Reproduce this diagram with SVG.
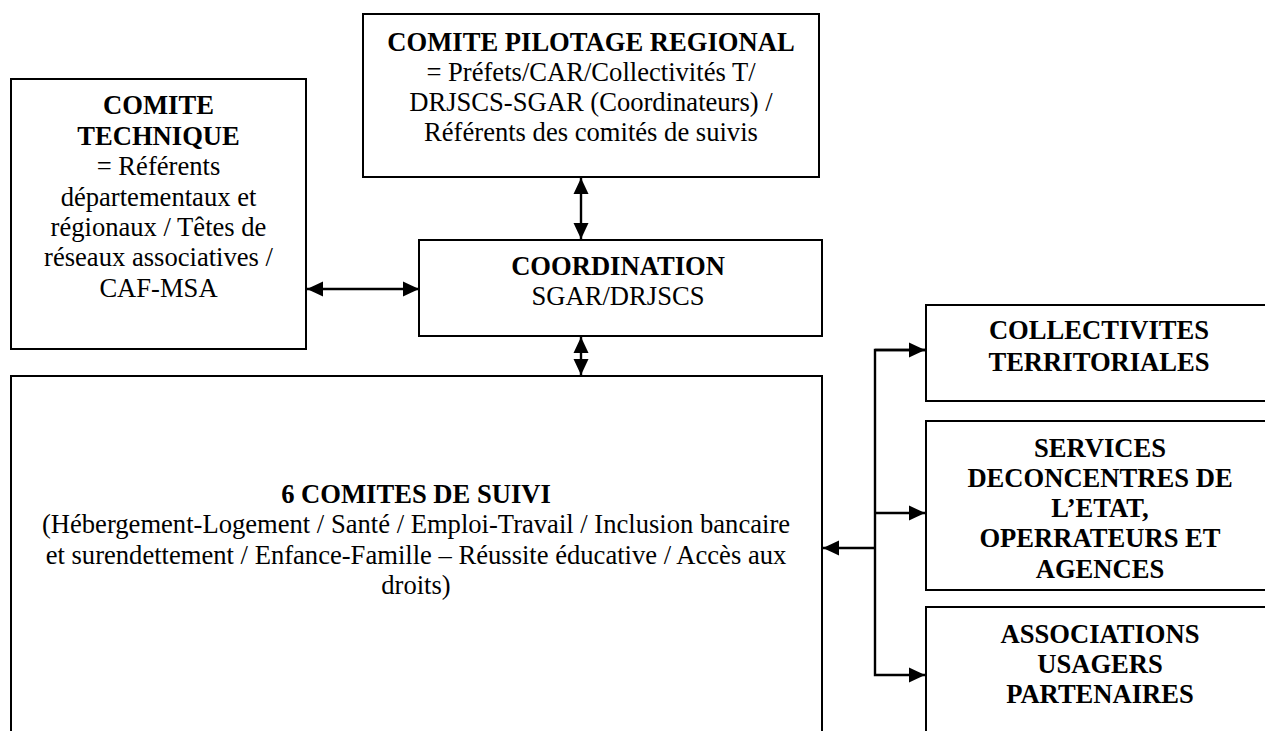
<svg xmlns="http://www.w3.org/2000/svg" width="1265" height="731" viewBox="0 0 1265 731">
<style>
.box{fill:#fff;stroke:#000;stroke-width:2}
.b{font-weight:bold}
.con{fill:none;stroke:#000;stroke-width:2.4}
</style>
<defs>
<marker id="ah" markerUnits="userSpaceOnUse" markerWidth="18" markerHeight="18" viewBox="0 0 18 18" refX="16" refY="9" orient="auto-start-reverse">
<path d="M0,1.5 L16,9 L0,16.5 Z" fill="#000"/>
</marker>
</defs>
<rect width="1265" height="731" fill="#fff"/>
<g font-family="Liberation Serif" font-size="26.6" text-anchor="middle" fill="#000">
<g id="comite-pilotage">
<rect class="box" x="363" y="14" width="456" height="163"/>
<text x="591" y="51" class="b">COMITE PILOTAGE REGIONAL</text>
<text x="591" y="81">= Préfets/CAR/Collectivités T/</text>
<text x="591" y="111">DRJSCS-SGAR (Coordinateurs) /</text>
<text x="591" y="141">Référents des comités de suivis</text>
</g>
<g id="comite-technique">
<rect class="box" x="11" y="79" width="295" height="270"/>
<text x="158.5" y="114" class="b">COMITE</text>
<text x="158.5" y="145" class="b">TECHNIQUE</text>
<text x="158.5" y="175">= Référents</text>
<text x="158.5" y="206">départementaux et</text>
<text x="158.5" y="236">régionaux / Têtes de</text>
<text x="158.5" y="266">réseaux associatives /</text>
<text x="158.5" y="297">CAF-MSA</text>
</g>
<g id="coordination">
<rect class="box" x="419" y="240" width="403" height="96"/>
<text x="618" y="275" class="b">COORDINATION</text>
<text x="618" y="305">SGAR/DRJSCS</text>
</g>
<g id="comites-suivi">
<rect class="box" x="11" y="376" width="811" height="370"/>
<text x="416" y="503" class="b">6 COMITES DE SUIVI</text>
<text x="416" y="533">(Hébergement-Logement / Santé / Emploi-Travail / Inclusion bancaire</text>
<text x="416" y="564">et surendettement / Enfance-Famille – Réussite éducative / Accès aux</text>
<text x="416" y="594">droits)</text>
</g>
<g id="collectivites">
<rect class="box" x="926" y="305" width="346" height="96"/>
<text x="1099" y="339" class="b">COLLECTIVITES</text>
<text x="1099" y="371" class="b">TERRITORIALES</text>
</g>
<g id="services">
<rect class="box" x="926" y="421" width="346" height="169"/>
<text x="1100" y="457" class="b">SERVICES</text>
<text x="1100" y="487" class="b">DECONCENTRES DE</text>
<text x="1100" y="517" class="b">L’ETAT,</text>
<text x="1100" y="547" class="b">OPERRATEURS ET</text>
<text x="1100" y="578" class="b">AGENCES</text>
</g>
<g id="associations">
<rect class="box" x="926" y="607" width="346" height="140"/>
<text x="1100" y="643" class="b">ASSOCIATIONS</text>
<text x="1100" y="673" class="b">USAGERS</text>
<text x="1100" y="703" class="b">PARTENAIRES</text>
</g>
</g>
<g id="connectors">
<line class="con" x1="307" y1="289" x2="419" y2="289" marker-start="url(#ah)" marker-end="url(#ah)"/>
<line class="con" x1="581" y1="178" x2="581" y2="239" marker-start="url(#ah)" marker-end="url(#ah)"/>
<line class="con" x1="581" y1="337" x2="581" y2="375" marker-start="url(#ah)" marker-end="url(#ah)"/>
<polyline class="con" points="925,350 875,350 875,675 925,675" marker-end="url(#ah)"/>
<line class="con" x1="875" y1="350" x2="925" y2="350" marker-end="url(#ah)"/>
<line class="con" x1="875" y1="513" x2="925" y2="513" marker-end="url(#ah)"/>
<line class="con" x1="875" y1="548" x2="823" y2="548" marker-end="url(#ah)"/>
</g>
</svg>
